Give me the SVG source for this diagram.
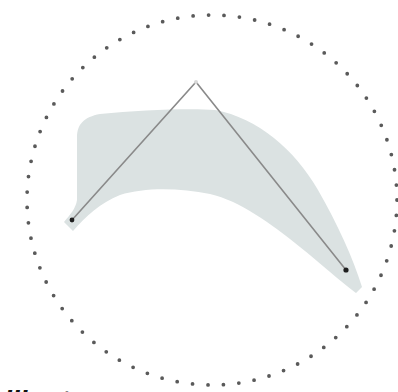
<svg xmlns="http://www.w3.org/2000/svg" width="398" height="392" viewBox="0 0 398 392">
<style>
.ring{fill:none;stroke:#5a5a5a;stroke-width:3.8;stroke-linecap:round;stroke-dasharray:0 15.5}
.blob{fill:#dbe2e2;stroke:none}
.edge{fill:none;stroke:#8a8a8a;stroke-width:1.6;stroke-linejoin:miter}
.end{fill:#1e1e1e}
.apex{fill:#d8d8d8}
.lbl{font-family:"Liberation Sans",Arial,sans-serif;font-weight:bold;font-style:italic;font-size:28px;fill:#111}
</style>
<rect width="398" height="392" fill="#fff"/>
<g id="ring"><circle class="ring" cx="212" cy="200" r="185"/></g>
<g id="blob"><path class="blob" d="M64,222 C70,215 76,208 77,200 L77,138 C77,124 84,117 100,114 C140,110 190,108 215,110 C258,118 295,150 318,190 C338,225 353,258 362,287 L356,293 C340,281 320,263 300,247 C270,223 240,201 210,194 C180,188 145,187 120,195 C100,203 86,216 73,231 Z"/></g>
<g id="connectors"><polyline class="edge" points="72,220 196,82 346,270"/></g>
<g id="p1"><circle class="end" cx="72" cy="220" r="2.4"/></g>
<g id="p2"><circle class="apex" cx="196" cy="82" r="2"/></g>
<g id="p3"><circle class="end" cx="346" cy="270" r="2.6"/></g>
<g id="label"><text class="lbl" x="4" y="410">illust</text></g>
</svg>
